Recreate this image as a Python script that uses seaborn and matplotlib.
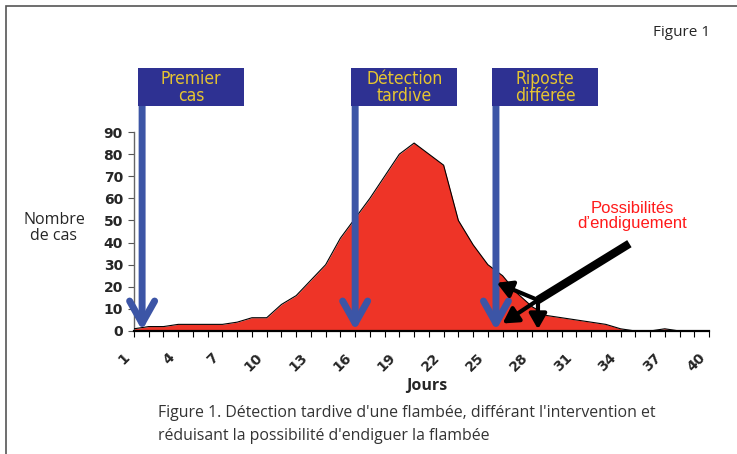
import numpy as np
import pandas as pd
import matplotlib
matplotlib.use("Agg")
import matplotlib.pyplot as plt
from matplotlib.patches import Rectangle
from matplotlib.transforms import ScaledTranslation
import seaborn as sns

# Données
jours = list(range(1, 41))
cas = [1, 2, 2, 3, 3, 3, 3, 4, 6, 6,
       12, 16, 23, 30, 42, 51, 60, 70, 80, 85,
       80, 75, 50, 39, 30, 25, 17, 11, 7, 6,
       5, 4, 3, 1, 0, 0, 1, 0, 0, 0]
tick_jours = list(range(1, 41, 3))
tick_cas = list(range(0, 91, 10))

# Étapes (flèches bleues)
etapes = ["Premier\ncas", "Détection\ntardive", "Riposte\ndifférée"]
etapes_jour = [1.55, 16.0, 25.55]

# Flèches noires : départ, jonction, pointes
endig_depart = (34.6, 39.5)
endig_jonction = (28.4, 14.0)
endig_pointes = [(25.6, 21.8), (26.0, 3.4), (28.4, 0.8)]

sns.set_style("white")
plt.rcParams['font.family'] = ['Open Sans', 'DejaVu Sans']

df = pd.DataFrame({'jour': jours, 'cas': cas})

fig = plt.figure(figsize=(7.37, 4.54), dpi=100)
ax = fig.add_axes([134 / 737, 1 - 331 / 454, 575 / 737, 199 / 454])

rouge = '#EE3427'
bleu = '#3C55A6'
marine = '#2E3192'
jaune = '#E6C530'

ax.fill_between(df['jour'], df['cas'], color=rouge, zorder=2, lw=0)
sns.lineplot(data=df, x='jour', y='cas', ax=ax, color='black', lw=0.8, zorder=3)

ax.set_xlim(1, 40)
ax.set_ylim(0, 90)
ax.set_xticks(jours, minor=True)
ax.set_xticks(tick_jours)
ax.set_xticklabels([str(j) for j in tick_jours], rotation=45, ha='right',
                   rotation_mode='anchor', fontweight='bold', fontsize=10,
                   family='DejaVu Sans')
ax.set_yticks(tick_cas)
ax.set_yticklabels([str(c) for c in tick_cas], fontweight='bold', fontsize=10,
                   family='DejaVu Sans')
ax.tick_params(axis='x', which='both', direction='out', length=4, width=0.8,
               color='black', bottom=True, pad=8)
ax.tick_params(axis='y', direction='out', length=4, width=0.8, color='#555555',
               left=True, pad=4)
decal = ScaledTranslation(-11 / 100, -3 / 100, fig.dpi_scale_trans)
for t in ax.get_xticklabels():
    t.set_transform(t.get_transform() + decal)
ax.set_xlabel('')
ax.set_ylabel('')
for s in ['top', 'right']:
    ax.spines[s].set_visible(False)
ax.spines['bottom'].set_color('black')
ax.spines['bottom'].set_linewidth(1.6)
ax.spines['bottom'].set_zorder(5)
ax.spines['left'].set_color('#666666')
ax.spines['left'].set_linewidth(1.0)

# Flèches bleues et étiquettes
for lab, x in zip(etapes, etapes_jour):
    ax.annotate('', xy=(x, 0.3), xytext=(x, 116), annotation_clip=False,
                arrowprops=dict(arrowstyle='->,head_length=0.8,head_width=0.45',
                                color=bleu, lw=5, shrinkA=0, shrinkB=0,
                                mutation_scale=20), zorder=6)
    x0 = x - 4 / 14.74
    ax.add_patch(Rectangle((x0, 101.8), 106 / 14.74, 17.2, facecolor=marine,
                           edgecolor='none', clip_on=False, zorder=7))
    ax.text(x0 + 53 / 14.74, 110.2, lab, color=jaune, ha='center', va='center',
            fontsize=12.5, linespacing=0.92, family=['DejaVu Sans'],
            fontstretch='condensed', zorder=8, clip_on=False)

# Flèches noires
ax.plot([endig_depart[0], endig_jonction[0]], [endig_depart[1], endig_jonction[1]],
        color='black', lw=6, solid_capstyle='butt', zorder=6)
for p in endig_pointes:
    ax.annotate('', xy=p, xytext=endig_jonction,
                arrowprops=dict(arrowstyle='-|>,head_length=0.7,head_width=0.4',
                                color='black', lw=3, shrinkA=0, shrinkB=0,
                                mutation_scale=13), zorder=6)

ax.text(34.8, 52, "Possibilités\nd\u2019endiguement", color='#FF1A1A', ha='center',
        va='center', fontsize=12, linespacing=1.0, family='Liberation Sans',
        zorder=8)

fig.text(54 / 737, 1 - 228 / 454, "Nombre\nde cas", ha='center', va='center',
         fontsize=11.5, linespacing=1.0)
fig.text(427 / 737, 1 - 386 / 454, "Jours", ha='center', va='center',
         fontsize=11.5, fontweight='bold')
fig.text(682 / 737, 1 - 33 / 454, "Figure 1", ha='center', va='center',
         fontsize=11, fontweight='medium')
fig.text(158 / 737, 1 - 413 / 454,
         "Figure 1. Détection tardive d'une flambée, différant l'intervention et",
         ha='left', va='center', fontsize=11.4, color='#333333')
fig.text(158 / 737, 1 - 436 / 454,
         "réduisant la possibilité d'endiguer la flambée",
         ha='left', va='center', fontsize=11.4, color='#333333')

# Cadre
fig.add_artist(Rectangle((6 / 737, -0.2), 1.2, 1.2 - 6 / 454, fill=False,
                         edgecolor='#555555', lw=1.2, transform=fig.transFigure))

fig.savefig('out.png', dpi=100)
